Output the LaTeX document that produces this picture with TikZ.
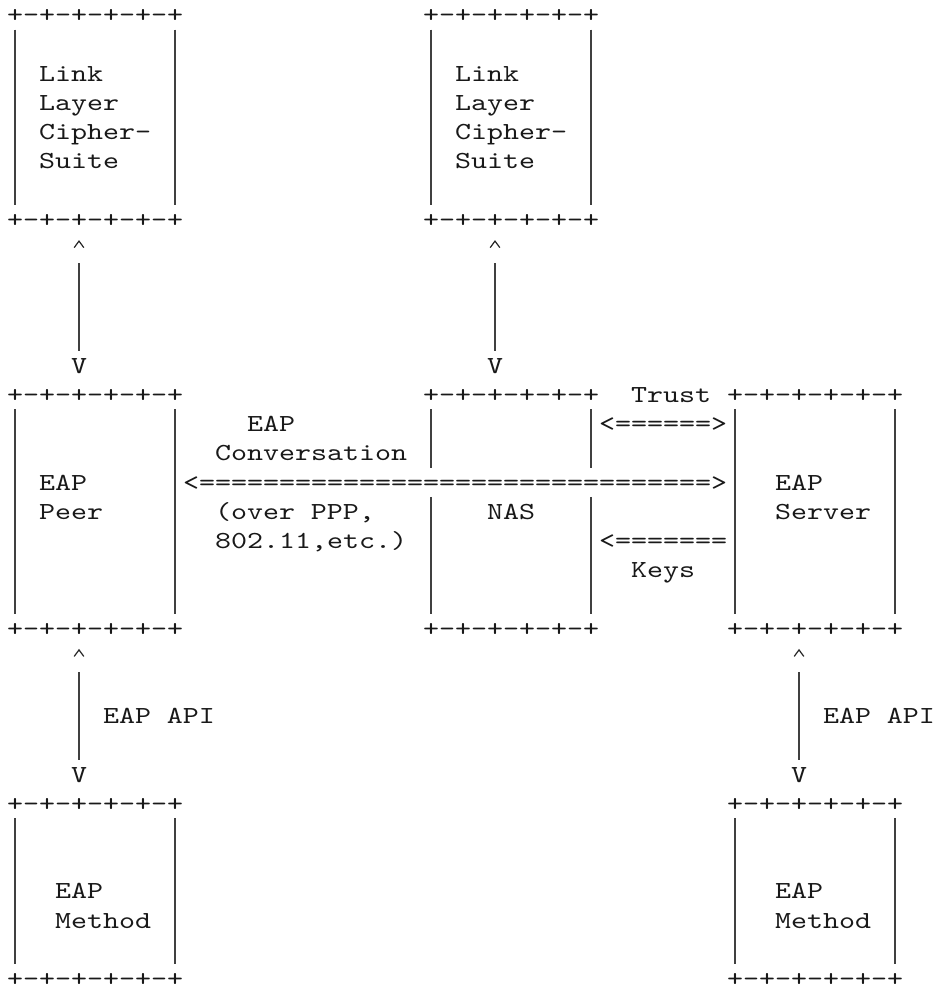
\documentclass[tikz,border=0pt]{standalone}
\usepackage{fontspec}
\newfontfamily\asciifont{lmmono10-regular.otf}[FakeStretch=1.244]

% A frame of +-+ borders: name, left column, top row, bottom row
\newcommand\asciiframe[4]{%
  \node[txt] (#1top) at (#2-0.5,#3) {+-+-+-+-+-+};
  \node[txt] (#1bot) at (#2-0.5,#4) {+-+-+-+-+-+};
}
% Vertical sides of a frame, drawn from its top border to its bottom border
\newcommand\asciisides[1]{%
  \draw[bar] ([xshift=8pt]#1top.south west) -- ([xshift=8pt]#1bot.north west);
  \draw[bar] ([xshift=-8pt]#1top.south east) -- ([xshift=-8pt]#1bot.north east);
}
% Two-headed vertical link: name, column, row of the caret, row of V
\newcommand\vlink[4]{%
  \node[txt] (#1up) at (#2-0.5,#3) {\phantom{V}};
  \draw[caret] ([xshift=-4.8pt,yshift=1pt]#1up.center) -- ++(4.8pt,6.5pt) -- ++(4.8pt,-6.5pt);
  \node[txt] (#1dn) at (#2-0.5,#4) {V};
  \draw[bar] (#1up.south) -- (#1dn.north);
}

\begin{document}
\begin{tikzpicture}[x=16pt,y=-29.2pt,
  txt/.style={font=\asciifont\fontsize{24.5pt}{29.2pt}\selectfont,
    inner sep=0pt, outer sep=0pt, text height=22.4pt, text depth=6.8pt,
    anchor=west, text=black!90},
  bar/.style={line width=1.6pt, black!75},
  caret/.style={line width=1.2pt, black!85, line join=miter}]

\useasboundingbox[fill=white] (-15pt,15pt) rectangle (921pt,-977pt);

% Link layer ciphersuites
\asciiframe{csA}{0}{0}{7}
\asciiframe{csB}{26}{0}{7}
\asciisides{csA}
\asciisides{csB}
\foreach \t [count=\i from 2] in {Link,Layer,Cipher-,Suite}{
  \node[txt] (csAt\i) at (1.5,\i) {\t};
  \node[txt] (csBt\i) at (27.5,\i) {\t};
}

% Links down to the peer and the NAS
\vlink{lpeer}{4}{8}{12}
\vlink{lnas}{30}{8}{12}

% EAP peer
\asciiframe{peer}{0}{13}{21}
\asciisides{peer}
\node[txt] (peerA) at (1.5,16) {EAP};
\node[txt] (peerB) at (1.5,17) {Peer};

% NAS (its sides are crossed by the conversation arrow)
\asciiframe{nas}{26}{13}{21}
\draw[bar] (26,13.5) -- (26,15.5);
\draw[bar] (26,16.5) -- (26,20.5);
\draw[bar] (36,13.5) -- (36,15.5);
\draw[bar] (36,16.5) -- (36,20.5);
\node[txt] (nasA) at (29.5,17) {NAS};

% EAP server
\asciiframe{srv}{45}{13}{21}
\asciisides{srv}
\node[txt] (srvA) at (47.5,16) {EAP};
\node[txt] (srvB) at (47.5,17) {Server};

% Conversation between peer and server
\node[txt] (convA) at (14.5,14) {EAP};
\node[txt] (convB) at (12.5,15) {Conversation};
\node[txt] (conv) at (10.5,16) {<================================>};
\node[txt] (convC) at (12.5,17) {(over PPP,};
\node[txt] (convD) at (12.5,18) {802.11,etc.)};

% Trust and keys between NAS and server
\node[txt] (trustL) at (38.5,13) {Trust};
\node[txt] (trust) at (36.5,14) {<======>};
\node[txt] (keys) at (36.5,18) {<=======};
\node[txt] (keysL) at (38.5,19) {Keys};

% EAP API links
\vlink{apiA}{4}{22}{26}
\vlink{apiB}{49}{22}{26}
\node[txt] (apiAl) at (5.5,24) {EAP API};
\node[txt] (apiBl) at (50.5,24) {EAP API};

% EAP methods
\asciiframe{mA}{0}{27}{33}
\asciisides{mA}
\node[txt] (mAa) at (2.5,30) {EAP};
\node[txt] (mAb) at (2.5,31) {Method};
\asciiframe{mB}{45}{27}{33}
\asciisides{mB}
\node[txt] (mBa) at (47.5,30) {EAP};
\node[txt] (mBb) at (47.5,31) {Method};

\end{tikzpicture}
\end{document}
